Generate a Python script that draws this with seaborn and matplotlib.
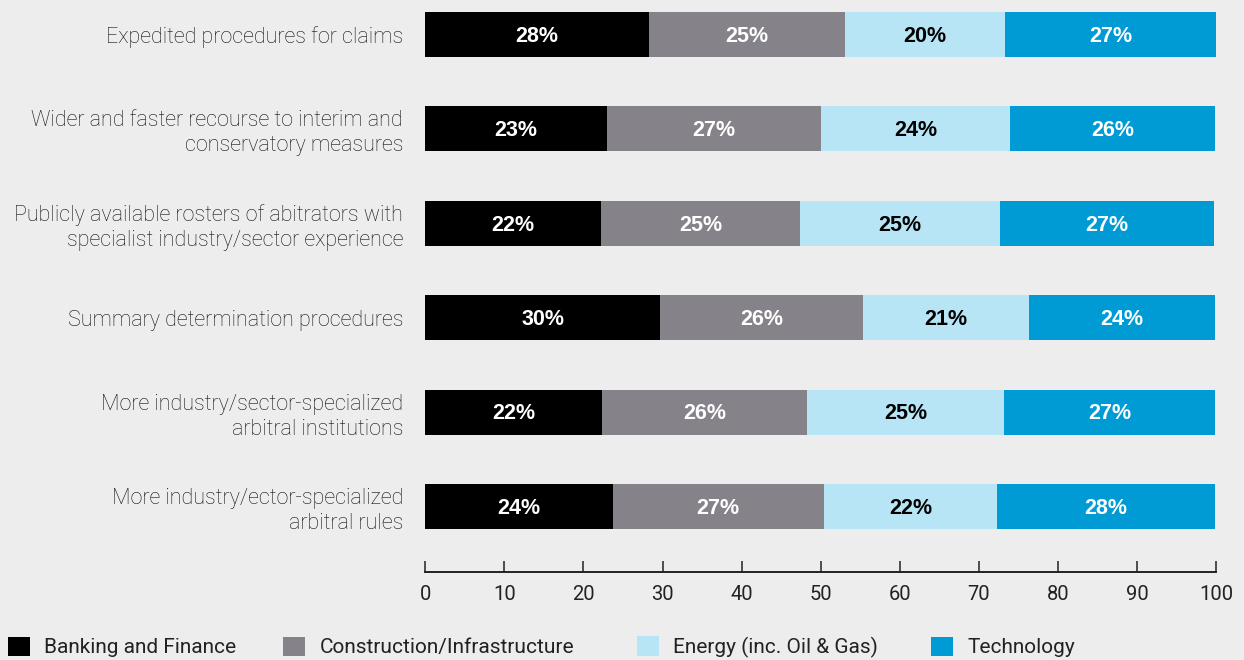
import matplotlib
matplotlib.use("Agg")
import matplotlib.pyplot as plt
from matplotlib.patches import Patch
import numpy as np
import pandas as pd
import seaborn as sns

categories = [
    "Expedited procedures for claims",
    "Wider and faster recourse to interim and\nconservatory measures",
    "Publicly available rosters of abitrators with\nspecialist industry/sector experience",
    "Summary determination procedures",
    "More industry/sector-specialized\narbitral institutions",
    "More industry/ector-specialized\narbitral rules",
]
series_names = ["Banking and Finance", "Construction/Infrastructure",
                "Energy (inc. Oil & Gas)", "Technology"]
banking = [28.3, 23.0, 22.2, 29.7, 22.4, 23.7]
construction = [24.8, 27.1, 25.2, 25.6, 25.9, 26.7]
energy = [20.2, 23.9, 25.3, 21.0, 24.9, 21.9]
technology = [26.7, 25.9, 27.1, 23.6, 26.7, 27.6]
x_ticks = [0, 10, 20, 30, 40, 50, 60, 70, 80, 90, 100]

colors = ["#000000", "#858389", "#b8e5f5", "#009ad4"]
label_colors = ["white", "white", "black", "white"]
BG = "#ededed"

sns.set_theme(style="white")
plt.rcParams["font.family"] = ["Roboto", "DejaVu Sans"]

df = pd.DataFrame({"category": categories})
series = [banking, construction, energy, technology]
cum = np.cumsum(np.array(series), axis=0)

fig = plt.figure(figsize=(12.44, 6.6), dpi=100, facecolor=BG)
ax = fig.add_axes([425.3 / 1244, 1 - 572.3 / 660, (1216 - 425.3) / 1244, 572.3 / 660])
ax.set_facecolor(BG)

# draw cumulative totals from the largest down, so each stack segment shows
for i in range(len(series) - 1, -1, -1):
    d = df.copy()
    d["value"] = cum[i]
    sns.barplot(data=d, x="value", y="category", orient="h", color=colors[i],
                width=0.477, saturation=1, ax=ax, edgecolor="none", linewidth=0)

# segment labels
for i, vals in enumerate(series):
    starts = cum[i] - np.array(vals)
    for j, v in enumerate(vals):
        ax.text(starts[j] + v / 2, j + 0.02, f"{v:.0f}%", ha="center", va="center",
                color=label_colors[i], fontsize=15.5, fontweight="bold",
                family=["Liberation Sans", "DejaVu Sans"])

ax.set_xlim(0, 100)
ax.set_ylim(5.697, -0.365)
ax.set_xticks(x_ticks)
ax.set_xticklabels([str(t) for t in x_ticks])
ax.set_xlabel("")
ax.set_ylabel("")

for s in ["top", "right", "left"]:
    ax.spines[s].set_visible(False)
ax.spines["bottom"].set_color("#222222")
ax.spines["bottom"].set_linewidth(1.4)

ax.tick_params(axis="x", bottom=True, direction="in", length=8, width=1.1,
               color="#222222", pad=9, labelsize=14.5, labelcolor="#222222")
ax.tick_params(axis="y", left=False, length=0, pad=16, labelcolor="#111111",
               labelsize=15.5)
for lab in ax.get_yticklabels():
    lab.set_fontweight("light")
    lab.set_linespacing(1.25)

# legend: one entry per position
legend_x = [8, 283, 637, 931]
for name, c, lx in zip(series_names, colors, legend_x):
    fig.legend(handles=[Patch(facecolor=c, edgecolor="none", label=name)],
               loc="center left", bbox_to_anchor=(lx / 1244, 13 / 660),
               frameon=False, borderpad=0, borderaxespad=0,
               handlelength=1.05, handleheight=1.05, handletextpad=0.7,
               prop={"family": ["Roboto", "DejaVu Sans"], "size": 15},
               labelcolor="#222222")

fig.savefig("out.png", dpi=100, facecolor=BG)
